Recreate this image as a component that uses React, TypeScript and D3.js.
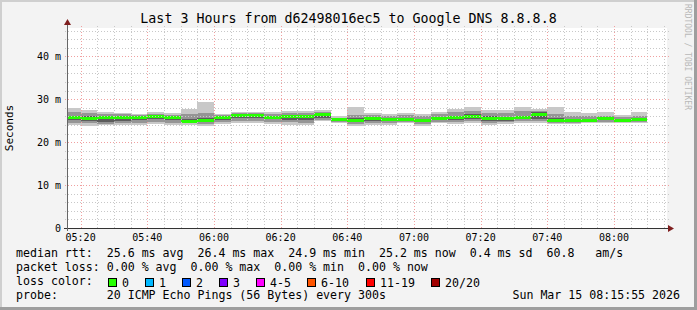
import React from "react";
import * as d3 from "d3";

const W = 697;
const H = 310;

// 5-minute steps (start of each step)
const stepStarts = [
  "05:15", "05:20", "05:25", "05:30", "05:35", "05:40", "05:45", "05:50", "05:55",
  "06:00", "06:05", "06:10", "06:15", "06:20", "06:25", "06:30", "06:35", "06:40",
  "06:45", "06:50", "06:55", "07:00", "07:05", "07:10", "07:15", "07:20", "07:25",
  "07:30", "07:35", "07:40", "07:45", "07:50", "07:55", "08:00", "08:05",
];

// median RTT (ms)
const median = [
  25.75, 25.5, 25.8, 25.7, 25.85, 25.9, 25.75, 24.9, 25.0, 25.8, 26.2, 26.25,
  25.75, 25.95, 25.9, 26.4, 25.2, 25.15, 25.4, 25.25, 25.35, 25.05, 25.4, 25.8,
  25.9, 25.5, 25.45, 25.7, 26.35, 25.05, 25.05, 25.1, 25.4, 25.0, 25.2,
];
// smoke: max / min of the 20 pings (ms)
const pingMax = [
  27.95, 27.4, 26.93, 26.79, 26.63, 27.02, 26.79, 27.79, 29.35, 26.63, 27.02, 26.98,
  26.93, 27.16, 27.16, 27.4, 26.0, 28.19, 26.79, 26.56, 26.79, 26.47, 26.93, 27.72,
  28.19, 27.56, 27.4, 28.19, 27.79, 28.19, 26.93, 26.79, 26.93, 26.4, 26.93,
];
const pingMin = [
  24.07, 23.84, 24.07, 24.07, 23.91, 24.14, 24.07, 24.07, 23.84, 24.23, 24.47, 24.47,
  24.3, 24.07, 24.07, 24.84, 24.47, 23.84, 24.07, 24.07, 24.47, 23.84, 24.47, 24.23,
  24.47, 24.07, 24.23, 24.47, 24.47, 24.23, 24.23, 24.47, 24.47, 24.47, 24.47,
];
// smoke: outer-middle band
const midHi = [
  27.0, 26.8, 26.5, 26.5, 26.4, 26.6, 26.4, 26.6, 26.8, 26.4, 26.7, 26.7, 26.5,
  26.8, 26.8, 27.0, 25.7, 26.4, 26.3, 26.1, 26.3, 26.0, 26.5, 27.0, 27.2, 26.9,
  26.7, 27.2, 27.2, 26.6, 26.0, 26.0, 26.2, 25.8, 26.1,
];
const midLo = [
  24.5, 24.4, 24.3, 24.4, 24.5, 24.6, 24.5, 24.5, 24.3, 24.6, 24.9, 24.9, 24.8,
  24.6, 24.5, 25.1, 24.8, 24.3, 24.5, 24.5, 24.8, 24.3, 24.8, 24.7, 24.9, 24.5,
  24.6, 24.9, 24.9, 24.5, 24.5, 24.7, 24.8, 24.7, 24.8,
];
// smoke: inner band
const inHi = [
  26.2, 26.2, 26.0, 26.0, 26.0, 26.2, 26.0, 25.5, 25.6, 26.0, 26.4, 26.5, 26.1,
  26.3, 26.4, 26.6, 25.4, 25.6, 25.7, 25.5, 25.6, 25.3, 25.8, 26.2, 26.6, 26.1,
  25.9, 26.2, 27.0, 25.6, 25.4, 25.4, 25.6, 25.3, 25.5,
];
const inLo = [
  25.1, 24.9, 24.6, 25.0, 25.1, 25.3, 25.2, 24.7, 24.7, 25.2, 25.6, 25.6, 25.3,
  25.2, 25.2, 25.6, 25.0, 24.8, 25.0, 24.9, 25.1, 24.6, 25.1, 25.2, 25.4, 25.0,
  25.0, 25.3, 25.3, 24.8, 24.8, 24.9, 25.1, 24.9, 25.0,
];

const xTickLabels = ["05:20", "05:40", "06:00", "06:20", "06:40", "07:00", "07:20", "07:40", "08:00"];
const yTickValues = [0, 10, 20, 30, 40];
const yTickLabels = ["0", "10 m", "20 m", "30 m", "40 m"];

const lossLabels = ["0", "1", "2", "3", "4-5", "6-10", "11-19", "20/20"];
const lossColors = ["#26ff00", "#00b8ff", "#0059ff", "#7e00ff", "#ff00ff", "#ff5500", "#ff0000", "#a10000"];
const lossBoxX = [108, 145, 182, 219, 256, 307, 366, 431];

const t = (hm: string, s = 0) => {
  const [h, m] = hm.split(":").map(Number);
  return new Date(Date.UTC(2026, 2, 15, h, m, s));
};

const PL = 67, PR = 667, PT = 28, PB = 228;
const FONT = "'DejaVu Sans Mono', monospace";
const PRE = { whiteSpace: "pre" as const };

export default function App() {
  const x = d3.scaleUtc().domain([t("05:15", 55), t("08:15", 55)]).range([PL, PR]);
  const y = d3.scaleLinear().domain([0, 46.6]).range([PB, PT]);

  const minorX = d3.utcMinute.every(5)!.range(t("05:15", 55), t("08:15", 55)).filter((d) => d.getUTCMinutes() % 20 !== 0);
  const majorX = xTickLabels.map((l) => t(l));
  const minorY = d3.range(2, 47, 2).filter((v) => v % 10 !== 0);

  const bars = stepStarts.map((s, i) => {
    const x0 = Math.max(PL + 1, x(t(s)));
    const x1 = x(new Date(t(s).getTime() + 300000));
    return { x0, x1, i };
  });

  const band = (hi: number[], lo: number[], color: string, key: string) =>
    bars.map(({ x0, x1, i }) => (
      <rect key={key + i} x={x0} width={x1 - x0} y={y(hi[i])} height={y(lo[i]) - y(hi[i])} fill={color} />
    ));

  return (
    <svg width={W} height={H} style={{ position: "absolute", left: 0, top: 0 }} fontFamily={FONT}>
      <rect x={0} y={0} width={W} height={H} fill="#f3f3f3" />
      <rect x={0} y={0} width={W} height={2} fill="#cfcfcf" />
      <rect x={0} y={0} width={2} height={H} fill="#cfcfcf" />
      <rect x={0} y={H - 3} width={W} height={3} fill="#9e9e9e" />
      <rect x={W - 3} y={0} width={3} height={H} fill="#9e9e9e" />
      <rect x={PL} y={PT} width={PR - PL} height={PB - PT} fill="#ffffff" />

      <g shapeRendering="crispEdges">
        {band(pingMax, pingMin, "#c8c8c8", "o")}
        {band(midHi, midLo, "#959595", "m")}
        {band(inHi, inLo, "#5c5c5c", "n")}
        {bars.map(({ x0, x1, i }) => (
          <rect key={"med" + i} x={x0} width={x1 - x0} y={y(median[i]) - 1.5} height={3} fill={lossColors[0]} />
        ))}
      </g>

      <g strokeDasharray="1,2" strokeWidth={1}>
        {minorY.map((v) => (
          <line key={"my" + v} x1={PL - 2} x2={PR + 2} y1={Math.round(y(v)) + 0.5} y2={Math.round(y(v)) + 0.5} stroke="#c8c8c8" />
        ))}
        {minorX.map((d, i) => (
          <line key={"mx" + i} y1={PT - 2} y2={PB + 2} x1={Math.round(x(d)) + 0.5} x2={Math.round(x(d)) + 0.5} stroke="#c8c8c8" />
        ))}
        {yTickValues.slice(1).map((v) => (
          <line key={"My" + v} x1={PL - 2} x2={PR + 2} y1={Math.round(y(v)) + 0.5} y2={Math.round(y(v)) + 0.5} stroke="#f0a0a0" />
        ))}
        {majorX.map((d, i) => (
          <line key={"Mx" + i} y1={PT - 2} y2={PB + 2} x1={Math.round(x(d)) + 0.5} x2={Math.round(x(d)) + 0.5} stroke="#f0a0a0" />
        ))}
      </g>

      {/* axes */}
      <line x1={PL - 3} x2={PR + 4} y1={PB + 0.5} y2={PB + 0.5} stroke="#333" />
      <line x1={PL + 0.5} x2={PL + 0.5} y1={PB + 3} y2={PT - 4} stroke="#666" />
      <path d={`M${PR + 1},${PB - 3} L${PR + 7},${PB + 0.5} L${PR + 1},${PB + 4} Z`} fill="#7f1f1f" />
      <path d={`M${PL - 3},${PT - 3} L${PL + 0.5},${PT - 9} L${PL + 4},${PT - 3} Z`} fill="#7f1f1f" />

      {/* axis labels */}
      <g fontSize={10} fill="#000">
        {yTickValues.map((v, i) => (
          <text key={"yl" + v} x={61} y={y(v) + 3.5} textAnchor="end" xmlSpace="preserve" style={PRE}>{yTickLabels[i]}</text>
        ))}
        {majorX.map((d, i) => (
          <text key={"xl" + i} x={x(d)} y={241} textAnchor="middle">{xTickLabels[i]}</text>
        ))}
      </g>
      <text transform={`translate(13,${(PT + PB) / 2}) rotate(-90)`} textAnchor="middle" fontSize={11} fill="#000">Seconds</text>

      <text x={348.5} y={23} textAnchor="middle" fontSize={13.3} fill="#000">Last 3 Hours from d62498016ec5 to Google DNS 8.8.8.8</text>

      <text transform={`translate(685,4) rotate(90)`} fontSize={8} fill="#b8b8b8">RRDTOOL / TOBI OETIKER</text>

      {/* legend */}
      <g fontSize={11.6} fill="#000">
        <text x={16} y={257} xmlSpace="preserve" style={PRE}>{"median rtt:  25.6 ms avg  26.4 ms max  24.9 ms min  25.2 ms now  0.4 ms sd  60.8   am/s"}</text>
        <text x={16} y={271} xmlSpace="preserve" style={PRE}>{"packet loss: 0.00 % avg  0.00 % max  0.00 % min  0.00 % now"}</text>
        <text x={16} y={285} xmlSpace="preserve" style={PRE}>{"loss color:"}</text>
        {lossLabels.map((l, i) => (
          <g key={"lc" + i}>
            <rect x={lossBoxX[i] + 0.5} y={278.5} width={8} height={8} fill={lossColors[i]} stroke="#000" strokeWidth={1} shapeRendering="crispEdges" />
            <text x={lossBoxX[i] + 14} y={287}>{l}</text>
          </g>
        ))}
        <text x={16} y={298.5} xmlSpace="preserve" style={PRE}>{"probe:       20 ICMP Echo Pings (56 Bytes) every 300s"}</text>
        <text x={680} y={298.5} textAnchor="end">Sun Mar 15 08:15:55 2026</text>
      </g>
    </svg>
  );
}
